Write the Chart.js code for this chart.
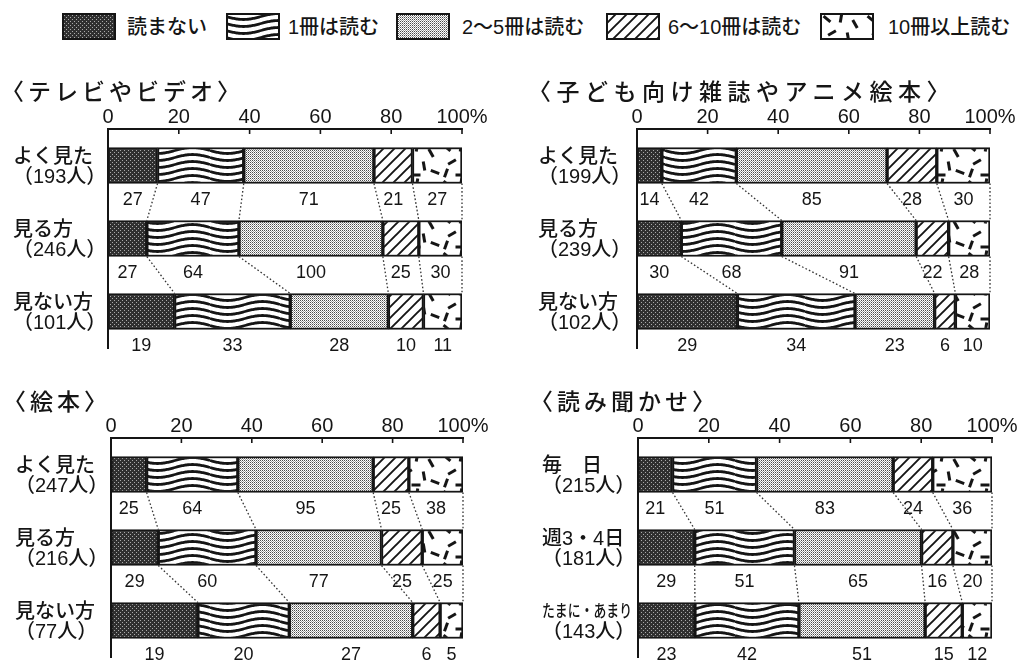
<!DOCTYPE html>
<html lang="ja">
<head>
<meta charset="utf-8">
<script src="https://cdn.jsdelivr.net/npm/chart.js@4.4.1/dist/chart.umd.min.js"></script>
<style>
  html, body { margin: 0; padding: 0; background: #fff; width: 1017px; height: 660px; overflow: hidden; }
  body { position: relative; font-family: 'Liberation Sans', 'Noto Sans CJK JP', sans-serif; color: #151515; }
  .box { position: absolute; }
  .title { position: absolute; font-size: 23px; font-weight: 500; letter-spacing: 4px; line-height: 1; white-space: nowrap; }
  .lg-swatch { position: absolute; top: 13px; width: 54px; height: 27px; }
  .lg-text { position: absolute; top: 14px; font-size: 20px; font-weight: 500; line-height: 26px; white-space: nowrap; }
</style>
</head>
<body>
<div id="legend"></div>

<script>
// 読書冊数 × 視聴・読み聞かせの頻度（人数）
const seriesNames = ['読まない', '1冊は読む', '2〜5冊は読む', '6〜10冊は読む', '10冊以上読む'];
const tickLabels = ['0', '20', '40', '60', '80', '100%'];

const tvTitle = '〈テレビやビデオ〉';
const tvRows = ['よく見た', '見る方', '見ない方'];
const tvTotals = [193, 246, 101];
const tvCounts = [
  [27, 47, 71, 21, 27],
  [27, 64, 100, 25, 30],
  [19, 33, 28, 10, 11]
];

const magTitle = '〈子ども向け雑誌やアニメ絵本〉';
const magRows = ['よく見た', '見る方', '見ない方'];
const magTotals = [199, 239, 102];
const magCounts = [
  [14, 42, 85, 28, 30],
  [30, 68, 91, 22, 28],
  [29, 34, 23, 6, 10]
];

const bookTitle = '〈絵本〉';
const bookRows = ['よく見た', '見る方', '見ない方'];
const bookTotals = [247, 216, 77];
const bookCounts = [
  [25, 64, 95, 25, 38],
  [29, 60, 77, 25, 25],
  [19, 20, 27, 6, 5]
];

const readTitle = '〈読み聞かせ〉';
const readRows = ['毎　日', '週3・4日', 'たまに・あまり'];
const readTotals = [215, 181, 143];
const readCounts = [
  [21, 51, 83, 24, 36],
  [29, 51, 65, 16, 20],
  [23, 42, 51, 15, 12]
];

const INK = '#151515';
const NUM_FONT = "'Liberation Sans', 'Noto Sans CJK JP', sans-serif";

// ---- 網掛けパターン ----
function makeTile(w, h, draw) {
  const c = document.createElement('canvas');
  c.width = w; c.height = h;
  const g = c.getContext('2d');
  g.fillStyle = '#fff';
  g.fillRect(0, 0, w, h);
  draw(g, w, h);
  return c;
}

const tiles = [
  // 読まない: 濃い網
  makeTile(4, 4, g => {
    g.fillStyle = '#303030';
    g.fillRect(0, 0, 4, 4);
    g.fillStyle = '#aaa';
    g.fillRect(0, 0, 1, 1);
    g.fillRect(2, 2, 1, 1);
  }),
  // 1冊: 波線
  makeTile(70, 7, (g, w, h) => {
    g.strokeStyle = INK;
    g.lineWidth = 2.8;
    for (const off of [-h, 0, h]) {
      g.beginPath();
      for (let x = 0; x <= w; x++) {
        const y = 3.5 + off + 3 * Math.sin(2 * Math.PI * x / w);
        if (x === 0) g.moveTo(x, y); else g.lineTo(x, y);
      }
      g.stroke();
    }
  }),
  // 2〜5冊: 細かい点
  makeTile(2, 2, g => {
    g.fillStyle = '#4a4a4a';
    g.fillRect(0, 0, 1, 1);
    g.fillStyle = '#a0a0a0';
    g.fillRect(1, 1, 1, 1);
  }),
  // 6〜10冊: 斜線
  makeTile(11, 11, g => {
    g.strokeStyle = INK;
    g.lineWidth = 1.9;
    g.beginPath();
    g.moveTo(-1, 12); g.lineTo(12, -1);
    g.moveTo(-2, 2); g.lineTo(2, -2);
    g.moveTo(9, 13); g.lineTo(13, 9);
    g.stroke();
  }),
  // 10冊以上: 散らした短線
  makeTile(44, 36, g => {
    g.strokeStyle = INK;
    g.lineWidth = 3;
    const marks = [[7, 6, 40], [21, 5, 100], [35, 11, 60], [12, 20, -30], [28, 24, 80], [39, 30, 20], [6, 31, 110], [20, 33, 0]];
    for (const [x, y, a] of marks) {
      const r = a * Math.PI / 180;
      g.beginPath();
      g.moveTo(x - 4.5 * Math.cos(r), y - 4.5 * Math.sin(r));
      g.lineTo(x + 4.5 * Math.cos(r), y + 4.5 * Math.sin(r));
      g.stroke();
    }
  })
];

const patCtx = document.createElement('canvas').getContext('2d');
const patterns = tiles.map(t => patCtx.createPattern(t, 'repeat'));

// ---- 凡例 ----
function buildLegend() {
  const host = document.getElementById('legend');
  const swatchX = [62, 226, 396, 606, 820];
  const textX = [127, 288, 462, 668, 888];
  seriesNames.forEach((name, i) => {
    const c = document.createElement('canvas');
    c.width = 54; c.height = 27;
    c.className = 'lg-swatch';
    c.style.left = swatchX[i] + 'px';
    const g = c.getContext('2d');
    g.fillStyle = patterns[i];
    g.fillRect(0, 0, 54, 27);
    g.strokeStyle = INK;
    g.lineWidth = 2;
    g.strokeRect(1, 1, 52, 25);
    host.appendChild(c);

    const t = document.createElement('div');
    t.className = 'lg-text';
    t.style.left = textX[i] + 'px';
    t.textContent = name;
    host.appendChild(t);
  });
}

// ---- プラグイン ----
const rowLabelsPlugin = {
  id: 'rowLabels',
  afterDraw(chart, args, opts) {
    const { ctx } = chart;
    const ys = chart.scales.y;
    const x0 = ys.left;
    const avail = ys.width - 6;
    ctx.save();
    ctx.fillStyle = INK;
    ctx.textAlign = 'left';
    ctx.textBaseline = 'middle';
    opts.rows.forEach((name, i) => {
      const cy = ys.getPixelForValue(i);
      ctx.font = "500 20px " + NUM_FONT;
      let w = ctx.measureText(name).width;
      if (w > avail) {
        // 長いラベルは詰めて描く
        ctx.font = "500 17px " + NUM_FONT;
        w = ctx.measureText(name).width;
        const k = avail / w;
        ctx.save();
        ctx.translate(x0, cy - 8);
        ctx.scale(k, 1);
        ctx.fillText(name, 0, 0);
        ctx.restore();
      } else {
        ctx.fillText(name, x0, cy - 8);
      }
      ctx.font = "500 20px " + NUM_FONT;
      ctx.fillText('（' + opts.totals[i] + '人）', x0, cy + 12);
    });
    ctx.restore();
  }
};

const countLabelsPlugin = {
  id: 'countLabels',
  afterDatasetsDraw(chart, args, opts) {
    const { ctx } = chart;
    ctx.save();
    ctx.fillStyle = INK;
    ctx.font = "18px " + NUM_FONT;
    ctx.textAlign = 'center';
    ctx.textBaseline = 'alphabetic';
    chart.data.datasets.forEach((ds, d) => {
      chart.getDatasetMeta(d).data.forEach((el, i) => {
        const cx = (el.base + el.x) / 2;
        ctx.fillText(String(opts.counts[i][d]), cx, el.y + el.height / 2 + 21.5);
      });
    });
    ctx.restore();
  }
};

const connectorsPlugin = {
  id: 'connectors',
  afterDatasetsDraw(chart) {
    const { ctx } = chart;
    ctx.save();
    ctx.strokeStyle = '#333';
    ctx.lineWidth = 1.3;
    ctx.setLineDash([1.6, 2.2]);
    chart.data.datasets.forEach((ds, d) => {
      const els = chart.getDatasetMeta(d).data;
      for (let i = 0; i < els.length - 1; i++) {
        const a = els[i], b = els[i + 1];
        ctx.beginPath();
        ctx.moveTo(a.x, a.y + a.height / 2);
        ctx.lineTo(b.x, b.y - b.height / 2);
        ctx.stroke();
      }
    });
    ctx.restore();
  }
};

const tickMarksPlugin = {
  id: 'tickMarks',
  afterDraw(chart) {
    const { ctx, chartArea } = chart;
    const xs = chart.scales.x;
    ctx.save();
    ctx.strokeStyle = INK;
    ctx.lineWidth = 1.6;
    xs.ticks.forEach(t => {
      if (t.value === 0) return;
      const x = xs.getPixelForValue(t.value);
      ctx.beginPath();
      ctx.moveTo(x, chartArea.top);
      ctx.lineTo(x, chartArea.top + 5);
      ctx.stroke();
    });
    ctx.restore();
  }
};

// ---- パネル ----
function makePanel(p) {
  const div = document.createElement('div');
  div.className = 'box';
  Object.assign(div.style, {
    left: p.box.left + 'px', top: p.box.top + 'px',
    width: p.box.width + 'px', height: p.box.height + 'px'
  });
  const canvas = document.createElement('canvas');
  div.appendChild(canvas);
  document.body.appendChild(div);

  const title = document.createElement('div');
  title.className = 'title';
  title.style.left = p.titlePos[0] + 'px';
  title.style.top = p.titlePos[1] + 'px';
  if (p.titleSpacing) title.style.letterSpacing = p.titleSpacing + 'px';
  title.textContent = p.title;
  document.body.appendChild(title);

  const padLeft = p.labelX - p.box.left;
  const yWidth = p.area.left - p.labelX;
  const xHeight = p.area.top - p.box.top;
  const padRight = p.box.left + p.box.width - p.area.right;
  const padBottom = p.box.top + p.box.height - p.area.bottom;

  const shares = p.counts.map(r => {
    const sum = r.reduce((s, v) => s + v, 0);
    return r.map(v => v / sum * 100);
  });

  return new Chart(canvas, {
    type: 'bar',
    data: {
      labels: p.rows,
      datasets: seriesNames.map((name, k) => ({
        label: name,
        data: shares.map(r => r[k]),
        backgroundColor: patterns[k],
        borderColor: INK,
        borderWidth: 2,
        borderSkipped: false,
        barThickness: 36
      }))
    },
    options: {
      indexAxis: 'y',
      responsive: true,
      maintainAspectRatio: false,
      animation: false,
      devicePixelRatio: 1,
      layout: { padding: { left: padLeft, right: padRight, top: 0, bottom: padBottom } },
      plugins: {
        legend: { display: false },
        tooltip: { enabled: false },
        rowLabels: { rows: p.rows, totals: p.totals },
        countLabels: { counts: p.counts }
      },
      scales: {
        x: {
          type: 'linear',
          position: 'top',
          stacked: true,
          min: 0, max: 100,
          grid: { display: false },
          border: { display: true, width: 2, color: INK },
          ticks: {
            stepSize: 20,
            padding: -8,
            maxRotation: 0,
            autoSkip: false,
            color: INK,
            font: { family: NUM_FONT, size: 20 },
            callback: (v, i) => tickLabels[i]
          },
          afterFit(s) { s.height = xHeight; }
        },
        y: {
          stacked: true,
          grid: { display: false },
          border: { display: true, width: 2, color: INK },
          ticks: { display: false },
          afterFit(s) { s.width = yWidth; }
        }
      }
    },
    plugins: [rowLabelsPlugin, countLabelsPlugin, connectorsPlugin, tickMarksPlugin]
  });
}

document.addEventListener('DOMContentLoaded', () => {
  buildLegend();
  const panels = [
    { title: tvTitle, rows: tvRows, totals: tvTotals, counts: tvCounts,
      box: { left: 0, top: 70, width: 500, height: 290 },
      area: { left: 108, right: 462, top: 129, bottom: 348 },
      labelX: 13, titlePos: [1, 81] },
    { title: magTitle, rows: magRows, totals: magTotals, counts: magCounts,
      box: { left: 525, top: 70, width: 492, height: 290 },
      area: { left: 637, right: 990, top: 129, bottom: 348 },
      labelX: 538, titlePos: [528, 81], titleSpacing: 5.5 },
    { title: bookTitle, rows: bookRows, totals: bookTotals, counts: bookCounts,
      box: { left: 0, top: 380, width: 500, height: 290 },
      area: { left: 111, right: 463, top: 438, bottom: 657 },
      labelX: 15, titlePos: [3, 391] },
    { title: readTitle, rows: readRows, totals: readTotals, counts: readCounts,
      box: { left: 525, top: 380, width: 492, height: 290 },
      area: { left: 638, right: 992, top: 438, bottom: 657 },
      labelX: 542, titlePos: [530, 391] }
  ];
  panels.forEach(makePanel);
});
</script>
</body>
</html>
